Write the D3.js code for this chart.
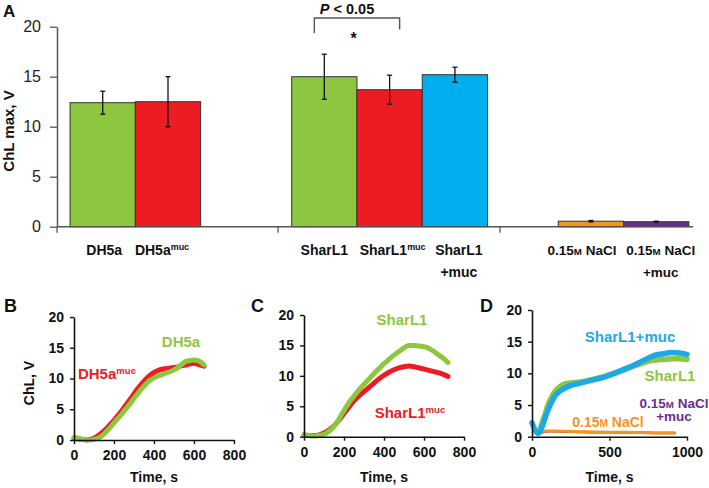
<!DOCTYPE html>
<html><head><meta charset="utf-8">
<script src="https://cdn.jsdelivr.net/npm/d3@7"></script>
<style>
html,body{margin:0;padding:0;background:#fff;}
svg{display:block;font-family:"Liberation Sans",Arial,sans-serif;}
</style></head><body>
<svg id="chart" width="709" height="488"></svg>
<script>
// ---------- Panel A data ----------
const categoriesA = ["DH5a", "DH5a^muc", "SharL1", "SharL1^muc", "SharL1\n+muc", "0.15{M} NaCl", "0.15{M} NaCl\n+muc"];
const valuesA = [12.4, 12.5, 15.0, 13.7, 15.2, 0.55, 0.5];
const errorsA = [1.15, 2.5, 2.25, 1.45, 0.75, 0.07, 0.05];
const colorsA = ["#8DC63F", "#ED1C24", "#8DC63F", "#ED1C24", "#00AEEF", "#F7941D", "#6A2C91"];
const ticksA = [0, 5, 10, 15, 20];

// ---------- Panel B data ----------
const timeB = [0,20,40,60,80,100,120,140,160,180,200,220,240,260,280,300,320,340,360,380,400,420,440,460,480,500,520,540,560,580,600,620,640,650];
const dh5aB = [0.4,0.3,0.1,0.0,0.0,0.1,0.3,0.7,1.3,2.0,2.8,3.5,4.3,5.1,5.9,6.8,7.6,8.4,9.1,9.7,10.1,10.4,10.6,10.9,11.1,11.4,11.8,12.3,12.8,12.9,13.0,12.9,12.5,12.2];
const dh5aMucB = [0.3,0.2,0.1,0.0,0.1,0.3,0.7,1.2,1.8,2.5,3.2,4.0,4.8,5.7,6.6,7.5,8.4,9.2,9.9,10.5,11.0,11.3,11.5,11.6,11.7,11.8,11.9,12.1,12.2,12.4,12.5,12.3,12.1,12.0];

// ---------- Panel C data ----------
const timeC = [0,25,50,75,100,125,150,175,200,225,250,275,300,325,350,375,400,425,450,475,500,525,550,575,600,625,650,675,700,720];
const sharL1C = [0.3,0.2,0.1,0.2,0.4,0.9,1.7,2.9,4.3,5.6,6.7,7.7,8.6,9.5,10.4,11.2,12.0,12.7,13.4,14.0,14.6,15.0,15.0,14.9,14.8,14.5,14.0,13.4,12.8,12.2];
const sharL1MucC = [0.3,0.2,0.2,0.3,0.6,1.1,1.8,2.7,3.8,4.9,5.9,6.7,7.4,8.1,8.8,9.5,10.1,10.6,11.0,11.3,11.5,11.6,11.5,11.3,11.1,10.9,10.7,10.5,10.2,9.9];

// ---------- Panel D data ----------
const timeD = [0,10,20,30,40,50,60,70,80,100,125,150,175,200,250,300,350,400,450,500,550,600,650,700,750,800,850,900,950,1000];
const sharL1MucD = [2.2,1.6,1.0,0.7,0.6,0.8,1.3,1.9,2.6,4.0,5.4,6.5,7.1,7.5,8.1,8.4,8.7,9.0,9.3,9.7,10.2,10.7,11.2,11.8,12.4,12.9,13.1,13.3,13.2,13.0];
const sharL1D = [null,null,null,null,0.6,1.0,1.8,2.5,3.2,4.8,6.2,7.2,7.8,8.2,8.5,8.6,8.8,9.1,9.4,9.8,10.2,10.6,11.1,11.5,11.9,12.1,12.2,12.3,12.3,12.2];
const timeNaCl = [40,60,80,100,150,200,300,400,500,600,700,800,900,920];
const naclD = [0.3,0.7,0.9,0.9,0.9,0.85,0.8,0.75,0.7,0.7,0.65,0.6,0.6,0.6];
const naclMucD = [0.3,0.6,0.8,0.85,0.85,0.8,0.75,0.7,0.7,0.65,0.62,0.6,0.58,0.58];

const ticksY = [0, 5, 10, 15, 20];
const ticksBC = [0, 200, 400, 600, 800];
const ticksD = [0, 500, 1000];

// ---------- helpers ----------
const svg = d3.select("#chart");
const FONT = '"Liberation Sans", Arial, sans-serif';

function richText(g, text, x, y, o) {
  const lines = text.split("\n");
  lines.forEach((line, li) => {
    const t = g.append("text")
      .attr("x", x).attr("y", y + li * o.lh)
      .attr("text-anchor", o.anchor || "middle")
      .attr("font-size", o.size).attr("font-weight", "bold")
      .attr("fill", o.color || "#111");
    const parts = line.split(/(\^\w+|\{M\})/).filter(s => s.length);
    parts.forEach(p => {
      if (p[0] === "^") {
        t.append("tspan").text(p.slice(1)).attr("font-size", o.size * 0.64).attr("dy", -o.size * 0.36);
      } else if (p === "{M}") {
        t.append("tspan").text("M").attr("font-size", o.size * 0.72);
      } else {
        t.append("tspan").text(p);
      }
    });
  });
}

// ---------- Panel A ----------
const gA = svg.append("g");
const yA = d3.scaleLinear().domain([0, 20]).range([226.7, 26.7]);
// horizontal layout in bar-width units
const slotA = [0.2, 1.2, 3.594, 4.594, 5.594, 7.677, 8.677];
const labelShiftA = [1.5, -6, 0, 3, 4, -9, 4.5];
const groupTickA = [0, 3.385, 6.785];
const xA = d3.scaleLinear().domain([0, 9.74]).range([57, 693]);
const bw = xA(1) - xA(0);

gA.selectAll("rect.bar").data(valuesA).join("rect")
  .attr("class", "bar")
  .attr("x", (d, i) => xA(slotA[i]))
  .attr("width", bw)
  .attr("y", d => yA(d))
  .attr("height", d => yA(0) - yA(d))
  .attr("fill", (d, i) => colorsA[i])
  .attr("stroke", "#333").attr("stroke-width", 1);

// error bars
valuesA.forEach((v, i) => {
  const cx = xA(slotA[i]) + bw / 2;
  const e = errorsA[i];
  const g = gA.append("g").attr("stroke", "#111").attr("stroke-width", 1.3);
  g.append("line").attr("x1", cx).attr("x2", cx).attr("y1", yA(v - e)).attr("y2", yA(v + e));
  g.append("line").attr("x1", cx - 2.5).attr("x2", cx + 2.5).attr("y1", yA(v - e)).attr("y2", yA(v - e));
  g.append("line").attr("x1", cx - 2.5).attr("x2", cx + 2.5).attr("y1", yA(v + e)).attr("y2", yA(v + e));
});

// y axis
const axA = gA.append("g").attr("transform", "translate(57,0)")
  .call(d3.axisLeft(yA).tickValues(ticksA).tickSize(7).tickSizeOuter(0).tickPadding(9));
axA.select(".domain").attr("stroke", "#555").attr("stroke-width", 1.5);
axA.selectAll(".tick line").attr("stroke", "#555").attr("stroke-width", 1.3);
axA.selectAll(".tick text").attr("font-size", 16).attr("font-family", FONT).attr("fill", "#222");

// x axis
gA.append("line").attr("x1", xA(0)).attr("x2", xA(9.74)).attr("y1", yA(0)).attr("y2", yA(0))
  .attr("stroke", "#555").attr("stroke-width", 1.5);
groupTickA.forEach(s => {
  gA.append("line").attr("x1", xA(s)).attr("x2", xA(s)).attr("y1", yA(0)).attr("y2", yA(0) + 6)
    .attr("stroke", "#555").attr("stroke-width", 1.3);
});

// category labels
categoriesA.forEach((c, i) => {
  richText(gA, c, xA(slotA[i]) + bw / 2 + labelShiftA[i], 255, {size: i >= 5 ? 13.5 : 14, lh: 21.5, color: "#111"});
});

// y label
gA.append("text").attr("transform", "translate(14,131) rotate(-90)")
  .attr("text-anchor", "middle").attr("font-size", 15).attr("font-weight", "bold")
  .attr("fill", "#111").text("ChL max, V");

// panel letter
svg.append("text").attr("x", 3).attr("y", 17).attr("font-size", 17).attr("font-weight", "bold").attr("fill", "#111").text("A");

// significance bracket
const bx1 = xA(slotA[2]) + bw / 2 - 10, bx2 = xA(slotA[3]) + bw / 2 + 10;
gA.append("path")
  .attr("d", `M${bx1},${33} V${18} H${bx2} V${29.5}`)
  .attr("fill", "none").attr("stroke", "#555").attr("stroke-width", 1.4);
const pt = gA.append("text").attr("x", 347).attr("y", 13.5).attr("text-anchor", "middle")
  .attr("font-size", 14.5).attr("font-weight", "bold").attr("fill", "#111");
pt.append("tspan").attr("font-style", "italic").text("P");
pt.append("tspan").text(" < 0.05");
gA.append("text").attr("x", 353.5).attr("y", 44).attr("text-anchor", "middle")
  .attr("font-size", 16).attr("font-weight", "bold").attr("fill", "#111").text("*");

// ---------- Panels B, C, D ----------
function panel(cfg) {
  const g = svg.append("g");
  const x = d3.scaleLinear().domain(cfg.xDomain).range(cfg.xRange);
  const y = d3.scaleLinear().domain([0, 20]).range(cfg.yRange);

  cfg.series.forEach(s => {
    const pts = s.t.map((t, i) => [t, s.v[i]]).filter(p => p[1] !== null);
    g.append("path").datum(pts)
      .attr("d", d3.line().x(p => x(p[0])).y(p => y(p[1])).curve(d3.curveMonotoneX))
      .attr("fill", "none").attr("stroke", s.color).attr("stroke-width", s.w || 5)
      .attr("stroke-linecap", "round").attr("stroke-linejoin", "round");
  });

  const ax = g.append("g").attr("transform", `translate(0,${cfg.yRange[0]})`)
    .call(d3.axisBottom(x).tickValues(cfg.xTicks).tickSize(4).tickSizeOuter(0).tickPadding(6).tickFormat(d3.format("d")));
  const ay = g.append("g").attr("transform", `translate(${cfg.xRange[0]},0)`)
    .call(d3.axisLeft(y).tickValues(ticksY).tickSize(4).tickSizeOuter(0).tickPadding(6));
  [ax, ay].forEach(a => {
    a.select(".domain").attr("stroke", "#111").attr("stroke-width", 1.6);
    a.selectAll(".tick line").attr("stroke", "#111").attr("stroke-width", 1.4);
    a.selectAll(".tick text").attr("font-size", 14).attr("font-weight", "bold")
      .attr("font-family", FONT).attr("fill", "#111");
  });

  g.append("text").attr("x", (cfg.xRange[0] + cfg.xRange[1]) / 2).attr("y", 481.5)
    .attr("text-anchor", "middle").attr("font-size", 14).attr("font-weight", "bold")
    .attr("fill", "#111").text("Time, s");
  if (cfg.yLabel) {
    g.append("text").attr("transform", "translate(34,383) rotate(-90)")
      .attr("text-anchor", "middle").attr("font-size", 14).attr("font-weight", "bold")
      .attr("fill", "#111").text(cfg.yLabel);
  }
  g.append("text").attr("x", cfg.letterX).attr("y", 312).attr("font-size", 18)
    .attr("font-weight", "bold").attr("fill", "#111").text(cfg.letter);
  cfg.labels.forEach(l => richText(g, l.text, l.x, l.y, {size: l.size || 15, lh: l.lh || 12.5, color: l.color}));
}

panel({
  letter: "B", letterX: 4, yLabel: "ChL, V",
  xDomain: [0, 800], xRange: [74, 234], yRange: [440, 317], xTicks: ticksBC,
  series: [
    {t: timeB, v: dh5aMucB, color: "#ED1C24"},
    {t: timeB, v: dh5aB, color: "#8DC63F"}
  ],
  labels: [
    {text: "DH5a", x: 181, y: 347, color: "#8DC63F"},
    {text: "DH5a^muc", x: 107, y: 379, color: "#ED1C24"}
  ]
});

panel({
  letter: "C", letterX: 251,
  xDomain: [0, 800], xRange: [304, 464], yRange: [436.7, 315], xTicks: ticksBC,
  series: [
    {t: timeC, v: sharL1MucC, color: "#ED1C24"},
    {t: timeC, v: sharL1C, color: "#8DC63F"}
  ],
  labels: [
    {text: "SharL1", x: 402, y: 325, color: "#8DC63F"},
    {text: "SharL1^muc", x: 410, y: 418, color: "#ED1C24"}
  ]
});

panel({
  letter: "D", letterX: 480,
  xDomain: [0, 1000], xRange: [532, 687], yRange: [436.7, 310], xTicks: ticksD,
  series: [
    {t: timeNaCl, v: naclMucD, color: "#6A2C91", w: 2.5},
    {t: timeNaCl, v: naclD, color: "#F7941D", w: 3},
    {t: timeD, v: sharL1D, color: "#8DC63F", w: 5.5},
    {t: timeD, v: sharL1MucD, color: "#1DA9E6", w: 5.5}
  ],
  labels: [
    {text: "SharL1+muc", x: 630, y: 342, color: "#1DA9E6"},
    {text: "SharL1", x: 670, y: 381, color: "#8DC63F"},
    {text: "0.15{M} NaCl\n+muc", x: 674, y: 408, color: "#6A2C91", size: 13.5, lh: 13},
    {text: "0.15{M} NaCl", x: 608, y: 427, color: "#F7941D", size: 14}
  ]
});
</script>
</body></html>
